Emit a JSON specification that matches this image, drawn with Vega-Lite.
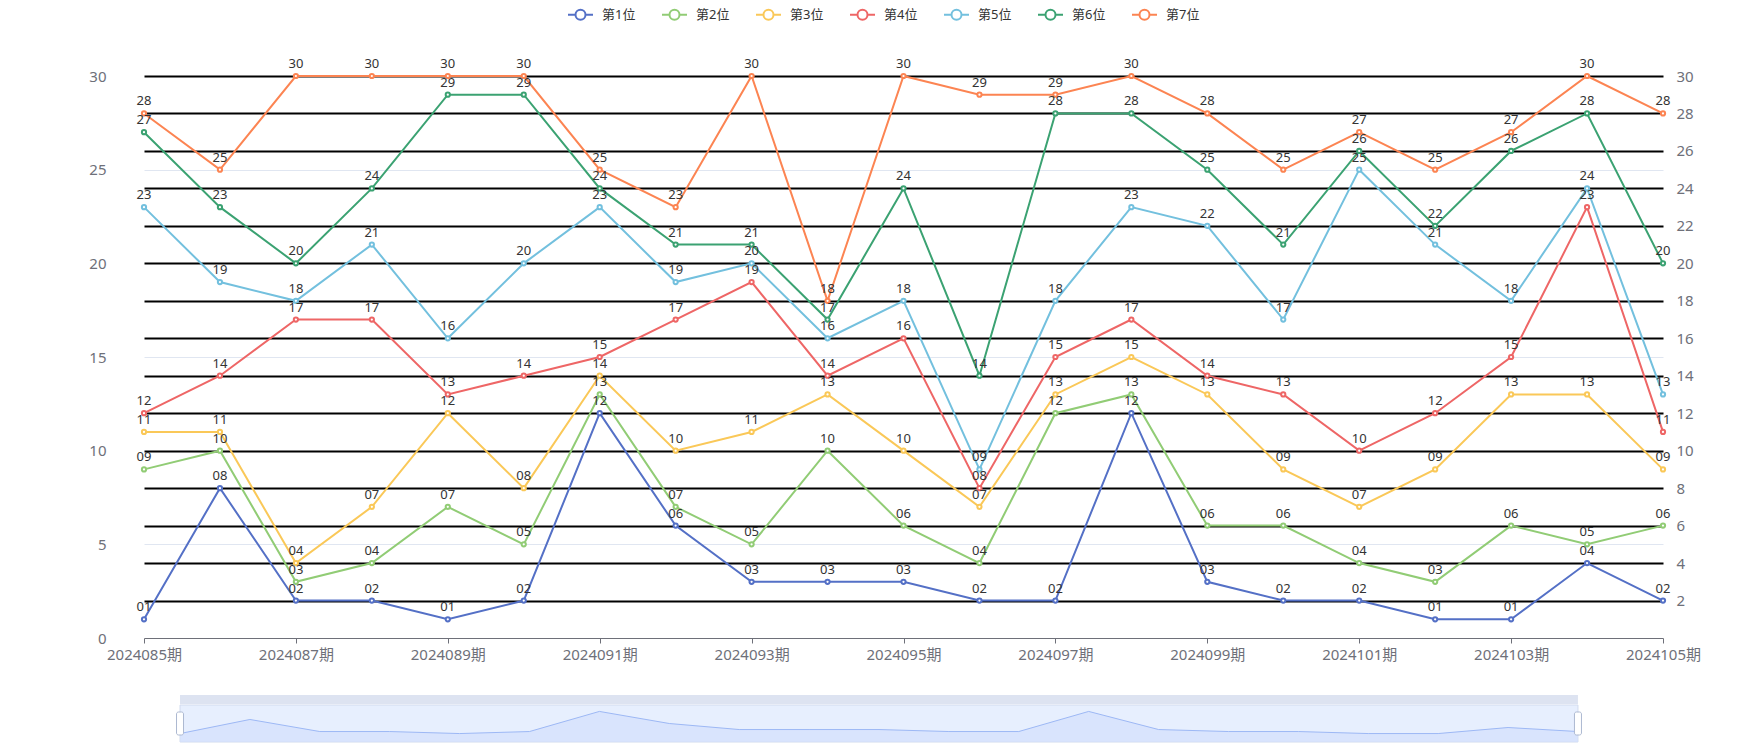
{
"$schema": "https://vega.github.io/schema/vega-lite/v6.json",
"background": "white",
"padding": {"left": 88, "top": 1, "right": 0, "bottom": 0},
"config": {"view": {"stroke": null}, "font": "Noto Sans, Noto Sans CJK SC"},
"datasets": {
"pos": [
{"period":"2024085期","series":"第1位","value":1},{"period":"2024086期","series":"第1位","value":8},{"period":"2024087期","series":"第1位","value":2},{"period":"2024088期","series":"第1位","value":2},{"period":"2024089期","series":"第1位","value":1},{"period":"2024090期","series":"第1位","value":2},{"period":"2024091期","series":"第1位","value":12},{"period":"2024092期","series":"第1位","value":6},{"period":"2024093期","series":"第1位","value":3},{"period":"2024094期","series":"第1位","value":3},{"period":"2024095期","series":"第1位","value":3},{"period":"2024096期","series":"第1位","value":2},{"period":"2024097期","series":"第1位","value":2},{"period":"2024098期","series":"第1位","value":12},{"period":"2024099期","series":"第1位","value":3},{"period":"2024100期","series":"第1位","value":2},{"period":"2024101期","series":"第1位","value":2},{"period":"2024102期","series":"第1位","value":1},{"period":"2024103期","series":"第1位","value":1},{"period":"2024104期","series":"第1位","value":4},{"period":"2024105期","series":"第1位","value":2},
{"period":"2024085期","series":"第2位","value":9},{"period":"2024086期","series":"第2位","value":10},{"period":"2024087期","series":"第2位","value":3},{"period":"2024088期","series":"第2位","value":4},{"period":"2024089期","series":"第2位","value":7},{"period":"2024090期","series":"第2位","value":5},{"period":"2024091期","series":"第2位","value":13},{"period":"2024092期","series":"第2位","value":7},{"period":"2024093期","series":"第2位","value":5},{"period":"2024094期","series":"第2位","value":10},{"period":"2024095期","series":"第2位","value":6},{"period":"2024096期","series":"第2位","value":4},{"period":"2024097期","series":"第2位","value":12},{"period":"2024098期","series":"第2位","value":13},{"period":"2024099期","series":"第2位","value":6},{"period":"2024100期","series":"第2位","value":6},{"period":"2024101期","series":"第2位","value":4},{"period":"2024102期","series":"第2位","value":3},{"period":"2024103期","series":"第2位","value":6},{"period":"2024104期","series":"第2位","value":5},{"period":"2024105期","series":"第2位","value":6},
{"period":"2024085期","series":"第3位","value":11},{"period":"2024086期","series":"第3位","value":11},{"period":"2024087期","series":"第3位","value":4},{"period":"2024088期","series":"第3位","value":7},{"period":"2024089期","series":"第3位","value":12},{"period":"2024090期","series":"第3位","value":8},{"period":"2024091期","series":"第3位","value":14},{"period":"2024092期","series":"第3位","value":10},{"period":"2024093期","series":"第3位","value":11},{"period":"2024094期","series":"第3位","value":13},{"period":"2024095期","series":"第3位","value":10},{"period":"2024096期","series":"第3位","value":7},{"period":"2024097期","series":"第3位","value":13},{"period":"2024098期","series":"第3位","value":15},{"period":"2024099期","series":"第3位","value":13},{"period":"2024100期","series":"第3位","value":9},{"period":"2024101期","series":"第3位","value":7},{"period":"2024102期","series":"第3位","value":9},{"period":"2024103期","series":"第3位","value":13},{"period":"2024104期","series":"第3位","value":13},{"period":"2024105期","series":"第3位","value":9},
{"period":"2024085期","series":"第4位","value":12},{"period":"2024086期","series":"第4位","value":14},{"period":"2024087期","series":"第4位","value":17},{"period":"2024088期","series":"第4位","value":17},{"period":"2024089期","series":"第4位","value":13},{"period":"2024090期","series":"第4位","value":14},{"period":"2024091期","series":"第4位","value":15},{"period":"2024092期","series":"第4位","value":17},{"period":"2024093期","series":"第4位","value":19},{"period":"2024094期","series":"第4位","value":14},{"period":"2024095期","series":"第4位","value":16},{"period":"2024096期","series":"第4位","value":8},{"period":"2024097期","series":"第4位","value":15},{"period":"2024098期","series":"第4位","value":17},{"period":"2024099期","series":"第4位","value":14},{"period":"2024100期","series":"第4位","value":13},{"period":"2024101期","series":"第4位","value":10},{"period":"2024102期","series":"第4位","value":12},{"period":"2024103期","series":"第4位","value":15},{"period":"2024104期","series":"第4位","value":23},{"period":"2024105期","series":"第4位","value":11},
{"period":"2024085期","series":"第5位","value":23},{"period":"2024086期","series":"第5位","value":19},{"period":"2024087期","series":"第5位","value":18},{"period":"2024088期","series":"第5位","value":21},{"period":"2024089期","series":"第5位","value":16},{"period":"2024090期","series":"第5位","value":20},{"period":"2024091期","series":"第5位","value":23},{"period":"2024092期","series":"第5位","value":19},{"period":"2024093期","series":"第5位","value":20},{"period":"2024094期","series":"第5位","value":16},{"period":"2024095期","series":"第5位","value":18},{"period":"2024096期","series":"第5位","value":9},{"period":"2024097期","series":"第5位","value":18},{"period":"2024098期","series":"第5位","value":23},{"period":"2024099期","series":"第5位","value":22},{"period":"2024100期","series":"第5位","value":17},{"period":"2024101期","series":"第5位","value":25},{"period":"2024102期","series":"第5位","value":21},{"period":"2024103期","series":"第5位","value":18},{"period":"2024104期","series":"第5位","value":24},{"period":"2024105期","series":"第5位","value":13},
{"period":"2024085期","series":"第6位","value":27},{"period":"2024086期","series":"第6位","value":23},{"period":"2024087期","series":"第6位","value":20},{"period":"2024088期","series":"第6位","value":24},{"period":"2024089期","series":"第6位","value":29},{"period":"2024090期","series":"第6位","value":29},{"period":"2024091期","series":"第6位","value":24},{"period":"2024092期","series":"第6位","value":21},{"period":"2024093期","series":"第6位","value":21},{"period":"2024094期","series":"第6位","value":17},{"period":"2024095期","series":"第6位","value":24},{"period":"2024096期","series":"第6位","value":14},{"period":"2024097期","series":"第6位","value":28},{"period":"2024098期","series":"第6位","value":28},{"period":"2024099期","series":"第6位","value":25},{"period":"2024100期","series":"第6位","value":21},{"period":"2024101期","series":"第6位","value":26},{"period":"2024102期","series":"第6位","value":22},{"period":"2024103期","series":"第6位","value":26},{"period":"2024104期","series":"第6位","value":28},{"period":"2024105期","series":"第6位","value":20},
{"period":"2024085期","series":"第7位","value":28},{"period":"2024086期","series":"第7位","value":25},{"period":"2024087期","series":"第7位","value":30},{"period":"2024088期","series":"第7位","value":30},{"period":"2024089期","series":"第7位","value":30},{"period":"2024090期","series":"第7位","value":30},{"period":"2024091期","series":"第7位","value":25},{"period":"2024092期","series":"第7位","value":23},{"period":"2024093期","series":"第7位","value":30},{"period":"2024094期","series":"第7位","value":18},{"period":"2024095期","series":"第7位","value":30},{"period":"2024096期","series":"第7位","value":29},{"period":"2024097期","series":"第7位","value":29},{"period":"2024098期","series":"第7位","value":30},{"period":"2024099期","series":"第7位","value":28},{"period":"2024100期","series":"第7位","value":25},{"period":"2024101期","series":"第7位","value":27},{"period":"2024102期","series":"第7位","value":25},{"period":"2024103期","series":"第7位","value":27},{"period":"2024104期","series":"第7位","value":30},{"period":"2024105期","series":"第7位","value":28}
],
"range": [{"from": "2024085期", "to": "2024105期"}],
"handles": [{"period": "2024085期"}, {"period": "2024105期"}]
},
"spacing": 33,
"resolve": {"scale": {"x": "independent", "y": "independent", "color": "independent"}},
"vconcat": [
{
"width": 1519,
"height": 562,
"data": {"name": "pos"},
"layer": [
{
"encoding": {
"x": {"field": "period", "type": "ordinal", "scale": {"type": "point", "padding": 0},
"axis": {"title": null, "values": ["2024085期","2024087期","2024089期","2024091期","2024093期","2024095期","2024097期","2024099期","2024101期","2024103期","2024105期"],
"labelAngle": 0, "labelFontSize": 15, "labelColor": "#6E7079", "labelPadding": 4, "tickSize": 5, "tickColor": "#6E7079", "domainColor": "#6E7079", "domainWidth": 1, "grid": false, "labelOverlap": false, "labelBound": false, "labelFlush": false}},
"y": {"field": "value", "type": "quantitative", "scale": {"domain": [0, 30], "nice": false},
"axis": {"title": null, "values": [0,5,10,15,20,25,30], "domain": false, "ticks": false, "labelPadding": 38, "labelFontSize": 15, "labelColor": "#6E7079", "grid": true, "gridWidth": 1,
"gridColor": {"condition": {"test": "datum.value % 10 === 0", "value": "rgba(0,0,0,0)"}, "value": "#E0E6F1"}}},
"color": {"field": "series", "type": "nominal",
"scale": {"domain": ["第1位","第2位","第3位","第4位","第5位","第6位","第7位"], "range": ["#5470c6","#91cc75","#fac858","#ee6666","#73c0de","#3ba272","#fc8452"]},
"legend": {"title": null, "orient": "none", "direction": "horizontal", "legendX": 423, "legendY": -75,
"symbolType": "M-1,0L-0.4,0M0.4,0L1,0M0.4,0A0.4,0.4 0 1 1 -0.4,0A0.4,0.4 0 1 1 0.4,0",
"symbolSize": 625, "symbolStrokeWidth": 2, "labelFontSize": 13, "labelColor": "#333", "labelOffset": 8, "columnPadding": 22,
"encode": {"symbols": {"update": {"fill": {"value": "white"}, "strokeWidth": {"value": 2}}}}}}
},
"layer": [
{"mark": {"type": "line", "strokeWidth": 2}},
{"mark": {"type": "point", "filled": false, "fill": "white", "size": 18, "strokeWidth": 2, "opacity": 1}},
{"mark": {"type": "text", "baseline": "bottom", "dy": -5, "fontSize": 13},
"encoding": {"text": {"field": "value", "type": "quantitative", "format": "02d"}, "color": {"value": "#333"}}}
]
},
{
"mark": {"type": "point", "opacity": 0},
"encoding": {
"x": {"field": "period", "type": "ordinal"},
"y": {"field": "value", "type": "quantitative", "scale": {"domain": [0, 30], "nice": false},
"axis": {"orient": "right", "title": null, "values": [2,4,6,8,10,12,14,16,18,20,22,24,26,28,30], "domain": false, "ticks": false, "labelPadding": 13, "labelFontSize": 15, "labelColor": "#6E7079", "grid": true, "gridColor": "#000", "gridWidth": 2}}
}
}
],
"resolve": {"scale": {"y": "independent"}}
},
{
"spacing": 0,
"resolve": {"scale": {"x": "independent", "y": "independent"}},
"vconcat": [
{
"width": 1519,
"height": 9,
"data": {"name": "range"},
"mark": {"type": "rect", "fill": "#dde3f1"},
"encoding": {
"x": {"field": "from", "type": "ordinal", "axis": null,
"scale": {"type": "point", "domain": ["2024085期","2024086期","2024087期","2024088期","2024089期","2024090期","2024091期","2024092期","2024093期","2024094期","2024095期","2024096期","2024097期","2024098期","2024099期","2024100期","2024101期","2024102期","2024103期","2024104期","2024105期"], "padding": 0.866, "align": 0.2975}},
"x2": {"field": "to"}
}
},
{
"width": 1519,
"height": 37,
"encoding": {
"x": {"type": "ordinal", "axis": null,
"scale": {"type": "point", "domain": ["2024085期","2024086期","2024087期","2024088期","2024089期","2024090期","2024091期","2024092期","2024093期","2024094期","2024095期","2024096期","2024097期","2024098期","2024099期","2024100期","2024101期","2024102期","2024103期","2024104期","2024105期"], "padding": 0.866, "align": 0.2975}}
},
"layer": [
{"data": {"name": "range"}, "mark": {"type": "rect", "fill": "#e7effe", "stroke": "#d2dbee", "strokeWidth": 1},
"encoding": {"x": {"field": "from", "type": "ordinal"}, "x2": {"field": "to"}}},
{"data": {"name": "pos"}, "transform": [{"filter": "datum.series === '第1位'"}],
"mark": {"type": "area", "fill": "#d3e0fc", "line": {"color": "#9db8f5", "strokeWidth": 1}},
"encoding": {"x": {"field": "period", "type": "ordinal"},
"y": {"field": "value", "type": "quantitative", "axis": null, "scale": {"domain": [-3.2, 15.2], "nice": false, "zero": false}},
"y2": {"datum": -3.2}}},
{"data": {"name": "handles"}, "mark": {"type": "tick", "orient": "vertical", "size": 23, "thickness": 7, "color": "white", "stroke": "#acb8d1", "strokeWidth": 1, "cornerRadius": 2, "opacity": 1},
"encoding": {"x": {"field": "period", "type": "ordinal"}}}
]
}
]
}
]
}
